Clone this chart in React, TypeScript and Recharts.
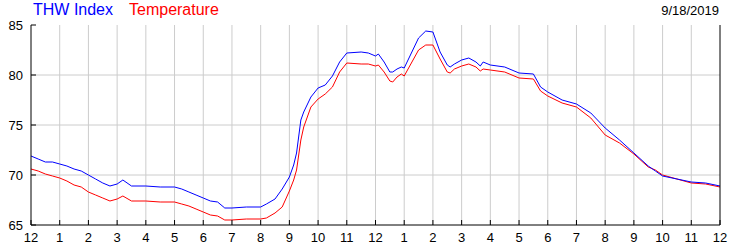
import { LineChart, Line, XAxis, YAxis, CartesianGrid } from "recharts";

// hours since midnight, 9/18/2019
const hours = [
  0, 0.25, 0.5, 0.75, 1, 1.25, 1.5, 1.75, 2, 2.25, 2.5, 2.75, 3, 3.2, 3.5, 4, 4.5, 5, 5.25, 5.5, 5.75,
  6, 6.25, 6.5, 6.75, 7, 7.5, 8, 8.2, 8.5, 8.75, 9, 9.15, 9.25, 9.4, 9.5, 9.75, 10, 10.25, 10.5,
  10.75, 11, 11.5, 11.75, 12, 12.1, 12.3, 12.5, 12.6, 12.75, 12.9, 13, 13.25, 13.5, 13.75, 14,
  14.25, 14.5, 14.6, 14.75, 15, 15.25, 15.5, 15.65, 15.75, 16, 16.5, 17, 17.5, 17.75, 18, 18.5,
  19, 19.5, 20, 20.5, 21, 21.5, 21.75, 22, 22.5, 23, 23.5, 24,
];
const thwIndex = [
  71.9, 71.6, 71.3, 71.3, 71.1, 70.9, 70.6, 70.4, 70.0, 69.6, 69.2, 68.9, 69.1, 69.5, 68.9, 68.9,
  68.8, 68.8, 68.6, 68.3, 68.0, 67.7, 67.4, 67.3, 66.7, 66.7, 66.8, 66.8, 67.1, 67.6, 68.6, 69.8,
  71.0, 72.2, 75.5, 76.3, 77.8, 78.7, 79.0, 79.9, 81.3, 82.2, 82.3, 82.2, 81.9, 82.1, 81.3, 80.3,
  80.3, 80.6, 80.8, 80.7, 82.2, 83.7, 84.4, 84.3, 82.3, 81.0, 80.8, 81.1, 81.5, 81.7, 81.3, 80.9,
  81.3, 81.0, 80.8, 80.2, 80.1, 78.8, 78.3, 77.5, 77.1, 76.2, 74.7, 73.5, 72.2, 70.9, 70.4, 69.9,
  69.6, 69.3, 69.2, 68.9,
];
const temperature = [
  70.6, 70.4, 70.1, 69.9, 69.7, 69.4, 69.0, 68.8, 68.3, 68.0, 67.7, 67.4, 67.6, 67.9, 67.4, 67.4,
  67.3, 67.3, 67.1, 66.9, 66.6, 66.3, 66.0, 65.9, 65.5, 65.5, 65.6, 65.6, 65.7, 66.2, 66.8, 68.4,
  69.5, 70.5, 73.5, 74.8, 76.8, 77.6, 78.1, 78.8, 80.3, 81.2, 81.1, 81.1, 80.9, 81.0, 80.3, 79.4,
  79.3, 79.8, 80.1, 79.9, 81.2, 82.5, 83.0, 83.0, 81.6, 80.3, 80.2, 80.6, 80.9, 81.1, 80.8, 80.4,
  80.6, 80.5, 80.3, 79.7, 79.6, 78.4, 77.9, 77.2, 76.8, 75.7, 74.0, 73.2, 72.1, 70.8, 70.5, 70.0,
  69.6, 69.2, 69.1, 68.8,
];
const hourTicks = Array.from({ length: 25 }, (_, i) => i);
const tempTicks = [65, 70, 75, 80, 85];

const data = hours.map((h, i) => ({ h, thw: thwIndex[i], temp: temperature[i] }));

const font = "'Liberation Sans', Arial, sans-serif";

function hourLabel(h: number) {
  return h % 12 === 0 ? 12 : h % 12;
}

function BottomTick(props: any) {
  const { x, y, payload } = props;
  return (
    <g>
      <line x1={x} x2={x} y1={y} y2={y - 5} stroke="#000" />
      <text x={x} y={y + 17} textAnchor="middle" fontSize={13} fontFamily={font} fill="#000">
        {hourLabel(payload.value)}
      </text>
    </g>
  );
}

function TopTick(props: any) {
  const { x, y } = props;
  return <line x1={x} x2={x} y1={y} y2={y + 5} stroke="#000" />;
}

function LeftTick(props: any) {
  const { x, y, payload } = props;
  return (
    <g>
      <line x1={x} x2={x + 5} y1={y} y2={y} stroke="#000" />
      <text x={x - 8} y={y + 5} textAnchor="end" fontSize={13} fontFamily={font} fill="#000">
        {payload.value}
      </text>
    </g>
  );
}

function RightTick(props: any) {
  const { x, y, payload } = props;
  return (
    <g>
      <line x1={x} x2={x - 5} y1={y} y2={y} stroke="#000" />
      <text x={x + 8} y={y + 5} textAnchor="start" fontSize={13} fontFamily={font} fill="#000">
        {payload.value}
      </text>
    </g>
  );
}

export default function App() {
  return (
    <div style={{ position: "absolute", left: 0, top: 0, width: 750, height: 250, background: "#fff" }}>
      <div style={{ position: "absolute", left: 33, top: 1, fontFamily: font, fontSize: 16, whiteSpace: "nowrap" }}>
        <span style={{ color: "#0000ff" }}>THW Index</span>
        <span style={{ color: "#ff0000", marginLeft: 16 }}>Temperature</span>
      </div>
      <div style={{ position: "absolute", right: 31, top: 3, fontFamily: font, fontSize: 13, color: "#000" }}>
        9/18/2019
      </div>
      <LineChart width={750} height={250} data={data} margin={{ top: 25, right: 0, bottom: 0, left: 0 }}>
        <CartesianGrid
          yAxisId="left"
          stroke="#cccccc"
          horizontalValues={[70, 75, 80]}
          verticalValues={hourTicks.slice(1, 24)}
        />
        <XAxis
          dataKey="h"
          type="number"
          domain={[0, 24]}
          ticks={hourTicks}
          interval={0}
          height={25}
          tickLine={false}
          tickSize={0}
          tickMargin={0}
          tick={<BottomTick />}
          axisLine={{ stroke: "#000" }}
        />
        <XAxis
          xAxisId="top"
          orientation="top"
          dataKey="h"
          type="number"
          domain={[0, 24]}
          ticks={hourTicks.slice(1, 24)}
          interval={0}
          height={0}
          tickLine={false}
          tickSize={0}
          tickMargin={0}
          tick={<TopTick />}
          axisLine={{ stroke: "#000" }}
        />
        <YAxis
          yAxisId="left"
          domain={[65, 85]}
          ticks={tempTicks}
          interval={0}
          width={31}
          tickLine={false}
          tickSize={0}
          tickMargin={0}
          tick={<LeftTick />}
          axisLine={{ stroke: "#000" }}
        />
        <YAxis
          yAxisId="right"
          orientation="right"
          domain={[65, 85]}
          ticks={tempTicks}
          interval={0}
          width={30}
          tickLine={false}
          tickSize={0}
          tickMargin={0}
          tick={<RightTick />}
          axisLine={{ stroke: "#000" }}
        />
        <Line
          yAxisId="left"
          type="linear"
          dataKey="temp"
          stroke="#ff0000"
          strokeWidth={1}
          dot={false}
          isAnimationActive={false}
        />
        <Line
          yAxisId="left"
          type="linear"
          dataKey="thw"
          stroke="#0000ff"
          strokeWidth={1}
          dot={false}
          isAnimationActive={false}
        />
      </LineChart>
    </div>
  );
}
